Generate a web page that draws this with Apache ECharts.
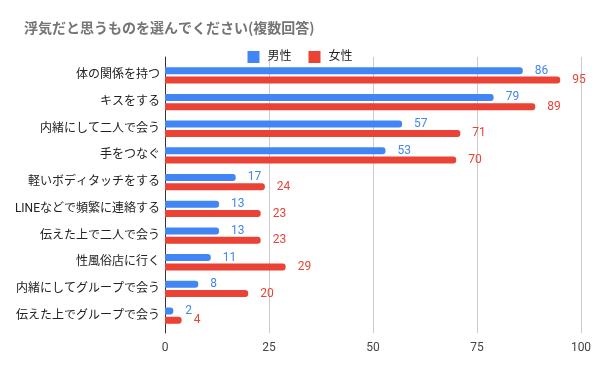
<!DOCTYPE html>
<html>
<head>
<meta charset="utf-8">
<script src="https://cdn.jsdelivr.net/npm/echarts@6/dist/echarts.min.js"></script>
<style>html,body{margin:0;padding:0;background:#fff}#c{width:600px;height:371px}</style>
</head>
<body>
<div id="c"></div>
<script>
const titleText = '浮気だと思うものを選んでください(複数回答)';
const categories = ['体の関係を持つ','キスをする','内緒にして二人で会う','手をつなぐ','軽いボディタッチをする','LINEなどで頻繁に連絡する','伝えた上で二人で会う','性風俗店に行く','内緒にしてグループで会う','伝えた上でグループで会う'];
const seriesNames = ['男性','女性'];
const male = [86,79,57,53,17,13,13,11,8,2];
const female = [95,89,71,70,24,23,23,29,20,4];
const xTicks = [0,25,50,75,100];

const FONT = "Roboto, 'Noto Sans CJK JP', sans-serif";
const colors = ['#4285F4','#EA4335'];
const chart = echarts.init(document.getElementById('c'));
function barSeries(name, data, color) {
  return {
    name: name, type: 'bar', xAxisIndex: 0, yAxisIndex: 0, data: data,
    barWidth: 7, barGap: '33%',
    itemStyle: { color: color, borderRadius: [0, 3, 3, 0] },
    label: { show: true, position: 'right', distance: 12, color: color, fontSize: 12, fontFamily: FONT },
    z: 3
  };
}
chart.setOption({
  animation: false,
  color: colors,
  title: { text: titleText, left: 19, top: 16, textStyle: { fontSize: 14, fontWeight: 'bold', color: '#757575', fontFamily: "'Noto Sans CJK JP', sans-serif" } },
  legend: { data: seriesNames, top: 46, left: 'center', icon: 'rect', itemWidth: 12, itemHeight: 12, itemGap: 17,
    textStyle: { fontSize: 12, color: '#222', fontFamily: FONT, padding: [0, 0, 0, 3] } },
  grid: [
    { left: 165, right: 19, top: 62, height: 267 },
    { left: 165, right: 19, top: 57, bottom: 38 }
  ],
  xAxis: [
    { gridIndex: 0, type: 'value', min: 0, max: 100, interval: 25, show: false },
    { gridIndex: 1, type: 'value', min: xTicks[0], max: xTicks[xTicks.length-1], interval: 25,
      axisLine: { show: false }, axisTick: { show: false },
      axisLabel: { color: '#444', fontSize: 12, margin: 9, fontFamily: FONT, formatter: v => xTicks.includes(v) ? String(v) : '' },
      splitLine: { lineStyle: { color: '#cccccc', width: 1 } } }
  ],
  yAxis: [
    { gridIndex: 0, type: 'category', data: categories, inverse: true,
      axisLine: { show: false }, axisTick: { show: false },
      axisLabel: { color: '#222', fontSize: 12, margin: 5, fontFamily: FONT } },
    { gridIndex: 1, type: 'value', min: 0, max: 1,
      axisLine: { show: true, lineStyle: { color: '#333', width: 1 } },
      axisTick: { show: false }, axisLabel: { show: false }, splitLine: { show: false } }
  ],
  series: [ barSeries(seriesNames[0], male, colors[0]), barSeries(seriesNames[1], female, colors[1]) ]
});
</script>
</body>
</html>
